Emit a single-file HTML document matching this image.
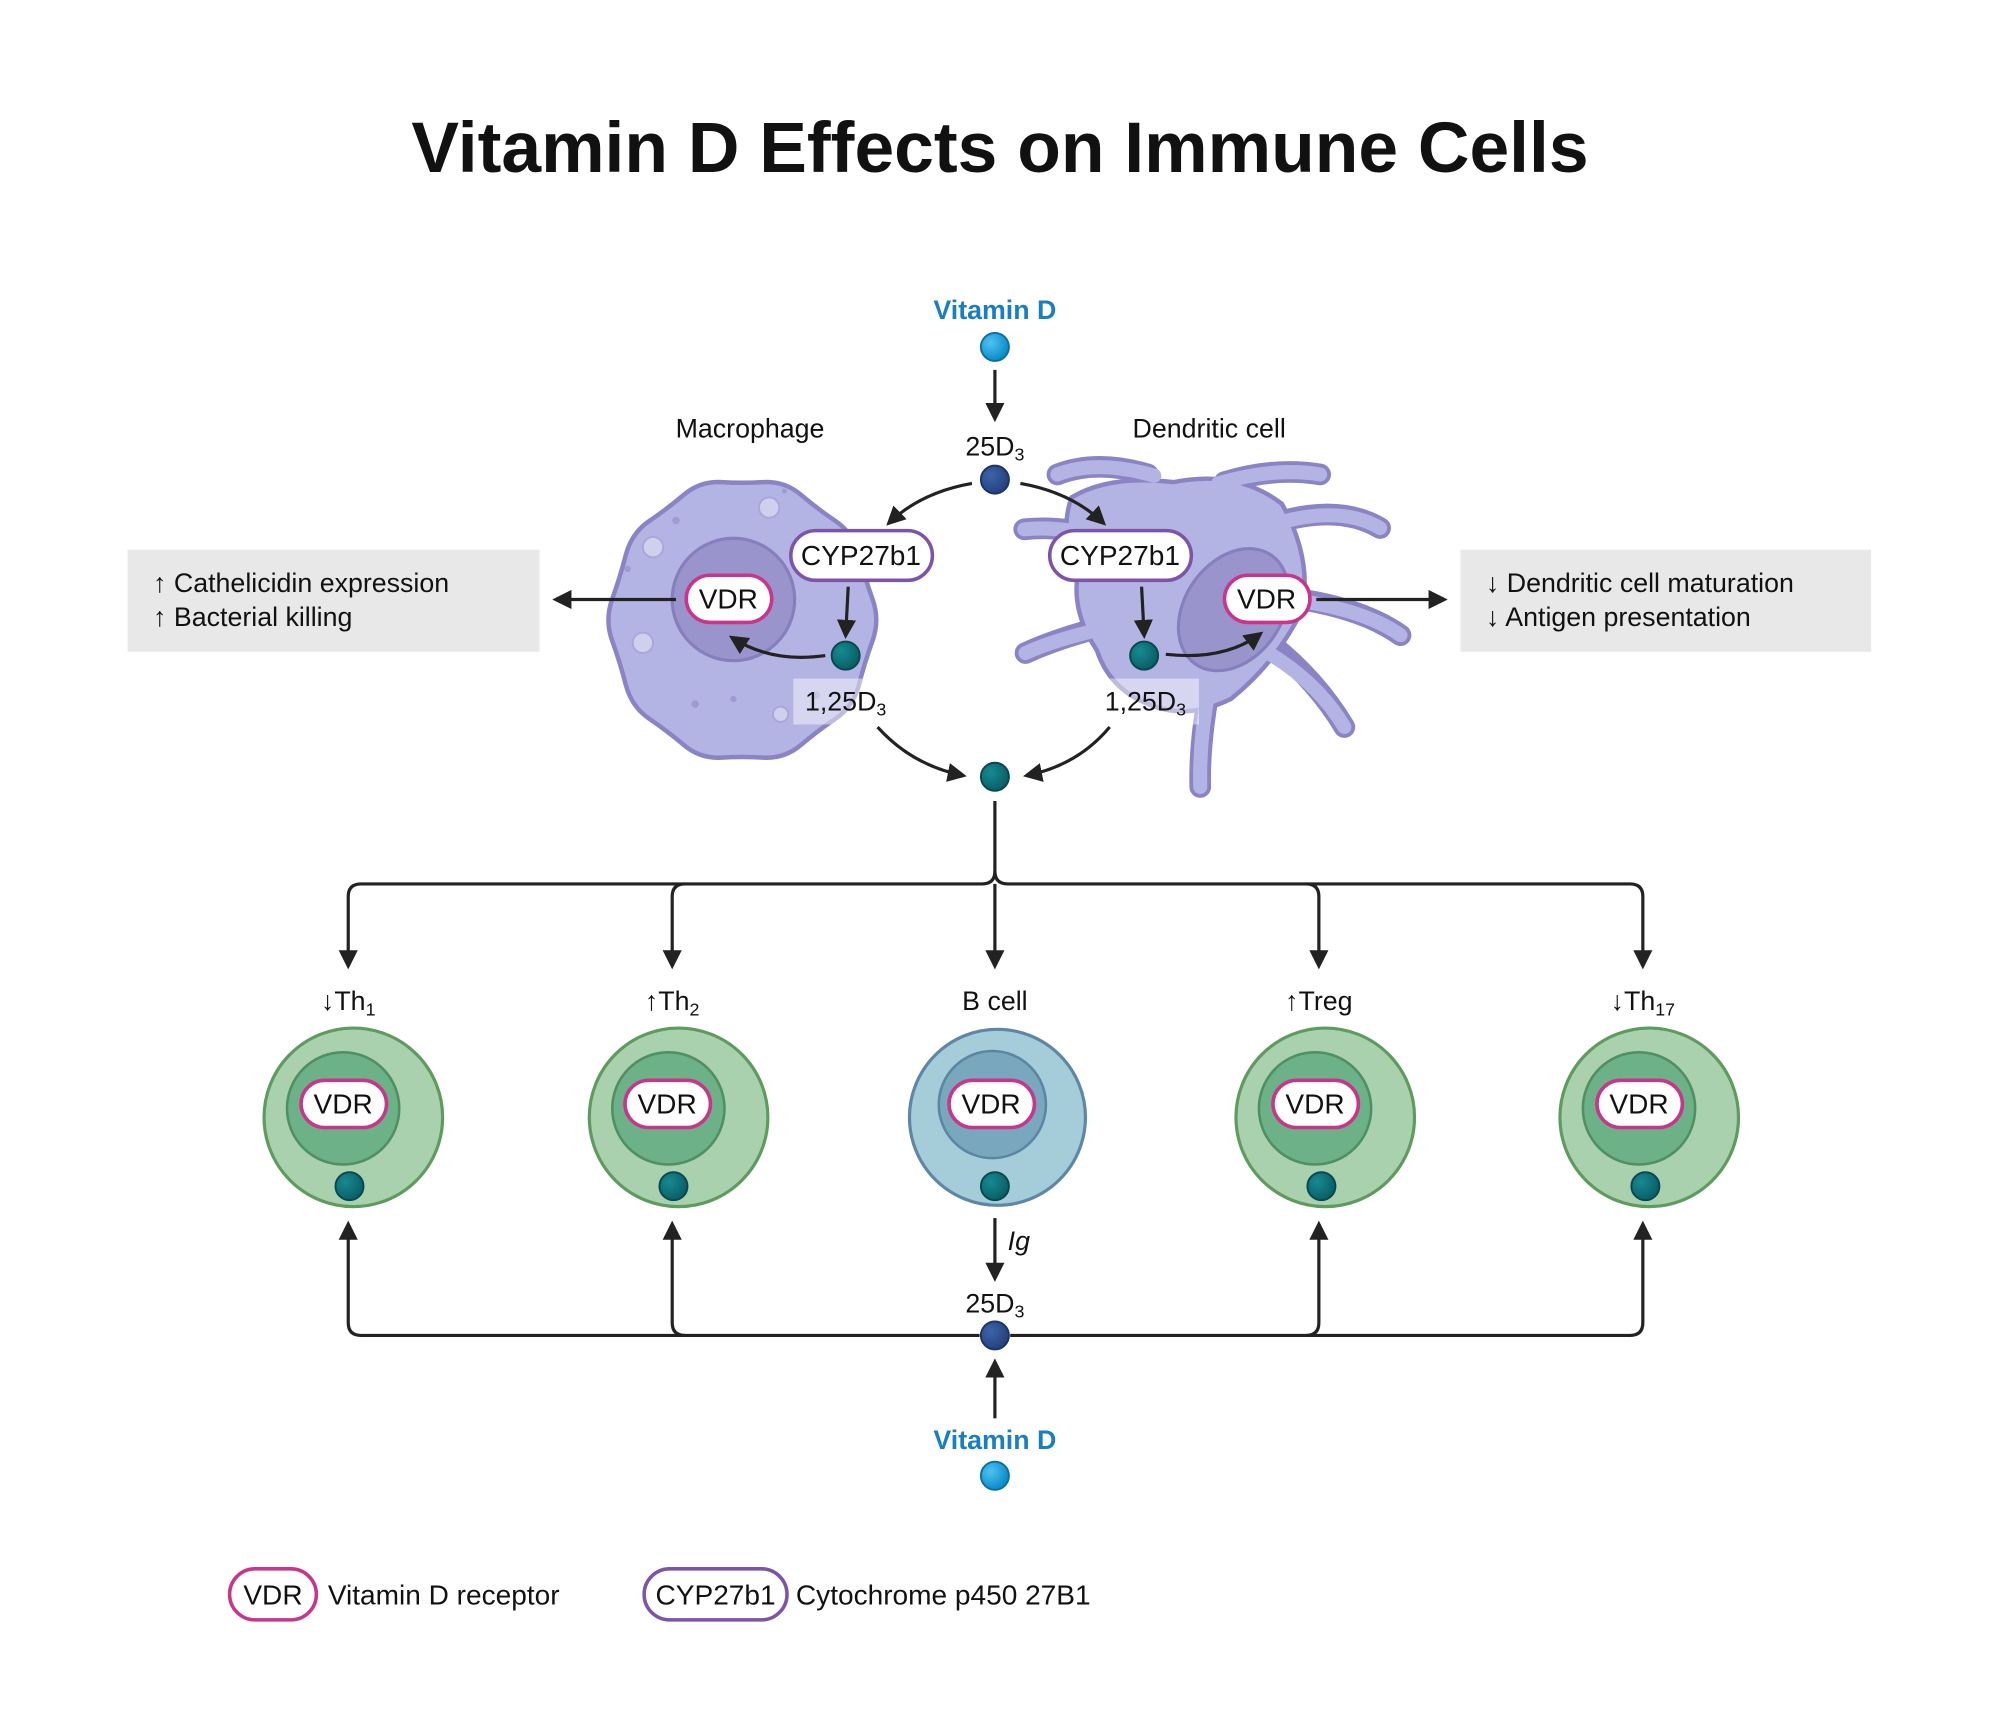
<!DOCTYPE html>
<html><head><meta charset="utf-8"><style>
html,body{margin:0;padding:0;background:#fff}
svg{display:block}
text{font-family:"Liberation Sans",Arial,sans-serif;fill:#111}
</style></head><body>
<svg width="2000" height="1727" viewBox="0 0 1568 1354" xmlns="http://www.w3.org/2000/svg">
<defs>
<marker id="ah" viewBox="0 0 10 10" refX="8" refY="5" markerWidth="6" markerHeight="6" orient="auto-start-reverse" markerUnits="strokeWidth">
<path d="M0,0 L10,5 L0,10 z" fill="#222"/></marker>
<radialGradient id="gb" cx="35%" cy="35%" r="65%"><stop offset="0" stop-color="#4fc3f0"/><stop offset="1" stop-color="#0a8cc8"/></radialGradient>
<radialGradient id="gd" cx="35%" cy="35%" r="65%"><stop offset="0" stop-color="#3d64a8"/><stop offset="1" stop-color="#25427f"/></radialGradient>
<radialGradient id="gt" cx="35%" cy="35%" r="65%"><stop offset="0" stop-color="#168a92"/><stop offset="1" stop-color="#0b5f67"/></radialGradient>
</defs>

<text x="784" y="135" text-anchor="middle" font-size="56" font-weight="bold">Vitamin D Effects on Immune Cells</text>

<!-- top vitamin D -->
<text x="780" y="250" text-anchor="middle" font-size="21" font-weight="bold" style="fill:#1a7fc1">Vitamin D</text>
<circle cx="780" cy="272" r="11" fill="url(#gb)" stroke="#0a6fa0" stroke-width="1.5"/>
<line x1="780" y1="290" x2="780" y2="328" stroke="#222" stroke-width="2.5" marker-end="url(#ah)"/>
<text x="780" y="357" text-anchor="middle" font-size="21">25D<tspan font-size="14" dy="4">3</tspan></text>
<circle cx="780" cy="376" r="11" fill="url(#gd)" stroke="#1c3366" stroke-width="1.5"/>

<!-- macrophage -->
<path d="M684,469.5 Q690,486 684,502.5 Q678,519 673.5,536.5 Q669,554 655,563.5 Q641,573 628,584 Q615,595 598.5,594 Q582,593 565.5,594 Q549,595 536,584 Q523,573 509,563.5 Q495,554 490.5,536.5 Q486,519 480,502.5 Q474,486 480,469.5 Q486,453 490.5,435.5 Q495,418 509,408.5 Q523,399 536,388 Q549,377 565.5,378 Q582,379 598.5,378 Q615,377 628,388 Q641,399 655,408.5 Q669,418 673.5,435.5 Q678,453 684,469.5 Z" fill="#b4b4e4" stroke="#8a84c4" stroke-width="3.5"/>
<g fill="#cfcfee" stroke="#a9a6d8" stroke-width="1.5">
<circle cx="603" cy="398" r="8"/><circle cx="512" cy="429" r="8"/><circle cx="504" cy="504" r="8"/><circle cx="612" cy="560" r="6"/></g>
<g fill="#9e9ad2"><circle cx="530" cy="408" r="3"/><circle cx="545" cy="552" r="3"/><circle cx="575" cy="548" r="2.5"/><circle cx="492" cy="446" r="2.5"/><circle cx="640" cy="545" r="3"/><circle cx="615" cy="385" r="2"/></g>
<circle cx="575" cy="470" r="48" fill="#9994cc" stroke="#8580bd" stroke-width="2.5"/>
<rect x="622" y="532" width="75" height="36" fill="#ffffff" fill-opacity="0.45"/>

<!-- dendritic cell -->
<g fill="none" stroke-linecap="round">
<g stroke="#8a84c4" stroke-width="17">
<path d="M900,372 Q860,360 829,372"/>
<path d="M960,378 Q1000,366 1035,372"/>
<path d="M1000,410 Q1050,395 1082,414"/>
<path d="M1020,470 Q1070,478 1098,498"/>
<path d="M990,500 Q1030,530 1054,570"/>
<path d="M950,530 Q940,580 941,617"/>
<path d="M870,490 Q830,500 804,512"/>
<path d="M860,420 Q830,412 803,415"/>
</g></g>
<path d="M840,390 Q870,372 920,378 Q970,368 1005,395 Q1030,440 1020,480 Q1000,520 965,548 Q930,565 900,552 Q870,540 860,510 Q840,480 845,450 Q830,420 840,390 Z" fill="#b4b4e4" stroke="#8a84c4" stroke-width="3.5"/>
<g fill="none" stroke-linecap="round"><g stroke="#b4b4e4" stroke-width="11">
<path d="M905,373 Q860,360 829,372"/>
<path d="M955,379 Q1000,366 1035,372"/>
<path d="M995,412 Q1050,395 1082,414"/>
<path d="M1012,470 Q1070,478 1098,498"/>
<path d="M982,505 Q1030,530 1054,570"/>
<path d="M948,540 Q940,580 941,617"/>
<path d="M878,490 Q830,500 804,512"/>
<path d="M868,422 Q830,412 803,415"/>
</g></g>
<ellipse cx="967" cy="478" rx="38" ry="52" transform="rotate(35 967 478)" fill="#9994cc" stroke="#8580bd" stroke-width="2.5"/>
<rect x="862" y="532" width="78" height="36" fill="#ffffff" fill-opacity="0.45"/>

<!-- curves from 25D3 -->
<path d="M762,379 Q722,386 697,410" fill="none" stroke="#222" stroke-width="2.5" marker-end="url(#ah)"/>
<path d="M800,379 Q840,386 865,410" fill="none" stroke="#222" stroke-width="2.5" marker-end="url(#ah)"/>

<!-- CYP pills -->
<rect x="620" y="416" width="111" height="39" rx="19.5" fill="#fff" stroke="#7c55a8" stroke-width="2.8"/>
<text x="675" y="443" text-anchor="middle" font-size="22">CYP27b1</text>
<rect x="823" y="416" width="111" height="39" rx="19.5" fill="#fff" stroke="#7c55a8" stroke-width="2.8"/>
<text x="878" y="443" text-anchor="middle" font-size="22">CYP27b1</text>

<line x1="665" y1="460" x2="663" y2="498" stroke="#222" stroke-width="2.5" marker-end="url(#ah)"/>
<line x1="895" y1="460" x2="897" y2="498" stroke="#222" stroke-width="2.5" marker-end="url(#ah)"/>
<circle cx="663" cy="514" r="11" fill="url(#gt)" stroke="#07484e" stroke-width="1.5"/>
<circle cx="897" cy="514" r="11" fill="url(#gt)" stroke="#07484e" stroke-width="1.5"/>
<path d="M647,514 Q605,520 574,500" fill="none" stroke="#222" stroke-width="2.5" marker-end="url(#ah)"/>
<path d="M914,513 Q960,518 988,497" fill="none" stroke="#222" stroke-width="2.5" marker-end="url(#ah)"/>

<text x="663" y="557" text-anchor="middle" font-size="21">1,25D<tspan font-size="14" dy="4">3</tspan></text>
<text x="898" y="557" text-anchor="middle" font-size="21">1,25D<tspan font-size="14" dy="4">3</tspan></text>

<!-- VDR pills in cells -->
<rect x="538" y="451" width="67" height="37" rx="18.5" fill="#fff" stroke="#c8368c" stroke-width="2.8"/>
<text x="571" y="477" text-anchor="middle" font-size="22">VDR</text>
<rect x="960" y="451" width="67" height="37" rx="18.5" fill="#fff" stroke="#c8368c" stroke-width="2.8"/>
<text x="993" y="477" text-anchor="middle" font-size="22">VDR</text>

<line x1="530" y1="470" x2="436" y2="470" stroke="#222" stroke-width="2.5" marker-end="url(#ah)"/>
<line x1="1032" y1="470" x2="1132" y2="470" stroke="#222" stroke-width="2.5" marker-end="url(#ah)"/>

<text x="588" y="343" text-anchor="middle" font-size="21">Macrophage</text>
<text x="948" y="343" text-anchor="middle" font-size="21">Dendritic cell</text>

<!-- side boxes -->
<rect x="100" y="431" width="323" height="80" fill="#e8e8e8"/>
<text x="120" y="464" font-size="21">↑ Cathelicidin expression</text>
<text x="120" y="491" font-size="21">↑ Bacterial killing</text>
<rect x="1145" y="431" width="322" height="80" fill="#e8e8e8"/>
<text x="1165" y="464" font-size="21">↓ Dendritic cell maturation</text>
<text x="1165" y="491" font-size="21">↓ Antigen presentation</text>

<!-- curves to center -->
<path d="M688,570 Q715,600 755,608" fill="none" stroke="#222" stroke-width="2.5" marker-end="url(#ah)"/>
<path d="M870,570 Q845,600 805,608" fill="none" stroke="#222" stroke-width="2.5" marker-end="url(#ah)"/>
<circle cx="780" cy="609" r="11" fill="url(#gt)" stroke="#07484e" stroke-width="1.5"/>

<!-- distribution lines -->
<g fill="none" stroke="#222" stroke-width="2.5">
<path d="M780,628 L780,683 Q780,693 770,693 L283,693 Q273,693 273,703 L273,757" marker-end="url(#ah)"/>
<path d="M780,683 Q780,693 790,693 L1278,693 Q1288,693 1288,703 L1288,757" marker-end="url(#ah)"/>
<path d="M537,693 Q527,693 527,703 L527,757" marker-end="url(#ah)"/>
<path d="M780,693 L780,757" marker-end="url(#ah)"/>
<path d="M1024,693 Q1034,693 1034,703 L1034,757" marker-end="url(#ah)"/>
</g>

<!-- labels -->
<text x="273" y="792" text-anchor="middle" font-size="21">↓Th<tspan font-size="14" dy="4">1</tspan></text>
<text x="527" y="792" text-anchor="middle" font-size="21">↑Th<tspan font-size="14" dy="4">2</tspan></text>
<text x="780" y="792" text-anchor="middle" font-size="21">B cell</text>
<text x="1034" y="792" text-anchor="middle" font-size="21">↑Treg</text>
<text x="1288" y="792" text-anchor="middle" font-size="21">↓Th<tspan font-size="14" dy="4">17</tspan></text>

<!-- T cells -->
<g>
<circle cx="277" cy="876" r="70" fill="#aad1ae" stroke="#5f9a5f" stroke-width="2.5"/>
<circle cx="269" cy="869" r="44" fill="#6cb187" stroke="#4f8f62" stroke-width="2"/>
<circle cx="532" cy="876" r="70" fill="#aad1ae" stroke="#5f9a5f" stroke-width="2.5"/>
<circle cx="524" cy="869" r="44" fill="#6cb187" stroke="#4f8f62" stroke-width="2"/>
<circle cx="782" cy="876" r="69" fill="#a4ccd9" stroke="#6086a6" stroke-width="2.5"/>
<circle cx="778" cy="866" r="42" fill="#79a7bd" stroke="#5b86a0" stroke-width="2"/>
<circle cx="1039" cy="876" r="70" fill="#aad1ae" stroke="#5f9a5f" stroke-width="2.5"/>
<circle cx="1031" cy="869" r="44" fill="#6cb187" stroke="#4f8f62" stroke-width="2"/>
<circle cx="1293" cy="876" r="70" fill="#aad1ae" stroke="#5f9a5f" stroke-width="2.5"/>
<circle cx="1285" cy="869" r="44" fill="#6cb187" stroke="#4f8f62" stroke-width="2"/>
</g>
<g>
<rect x="236" y="847" width="67" height="37" rx="18.5" fill="#fff" stroke="#c8368c" stroke-width="2.8"/>
<text x="269" y="873" text-anchor="middle" font-size="22">VDR</text>
<rect x="490" y="847" width="67" height="37" rx="18.5" fill="#fff" stroke="#c8368c" stroke-width="2.8"/>
<text x="523" y="873" text-anchor="middle" font-size="22">VDR</text>
<rect x="744" y="847" width="67" height="37" rx="18.5" fill="#fff" stroke="#c8368c" stroke-width="2.8"/>
<text x="777" y="873" text-anchor="middle" font-size="22">VDR</text>
<rect x="998" y="847" width="67" height="37" rx="18.5" fill="#fff" stroke="#c8368c" stroke-width="2.8"/>
<text x="1031" y="873" text-anchor="middle" font-size="22">VDR</text>
<rect x="1252" y="847" width="67" height="37" rx="18.5" fill="#fff" stroke="#c8368c" stroke-width="2.8"/>
<text x="1285" y="873" text-anchor="middle" font-size="22">VDR</text>
</g>
<g stroke="#07484e" stroke-width="1.5" fill="url(#gt)">
<circle cx="274" cy="930" r="11"/><circle cx="528" cy="930" r="11"/><circle cx="780" cy="930" r="11"/><circle cx="1036" cy="930" r="11"/><circle cx="1290" cy="930" r="11"/>
</g>

<!-- Ig and bottom -->
<line x1="780" y1="955" x2="780" y2="1002" stroke="#222" stroke-width="2.5" marker-end="url(#ah)"/>
<text x="790" y="980" font-size="21" font-style="italic">Ig</text>
<text x="780" y="1029" text-anchor="middle" font-size="21">25D<tspan font-size="14" dy="4">3</tspan></text>
<g fill="none" stroke="#222" stroke-width="2.5">
<path d="M768,1047 L283,1047 Q273,1047 273,1037 L273,960" marker-end="url(#ah)"/>
<path d="M537,1047 Q527,1047 527,1037 L527,960" marker-end="url(#ah)"/>
<path d="M792,1047 L1278,1047 Q1288,1047 1288,1037 L1288,960" marker-end="url(#ah)"/>
<path d="M1024,1047 Q1034,1047 1034,1037 L1034,960" marker-end="url(#ah)"/>
<line x1="780" y1="1112" x2="780" y2="1068" marker-end="url(#ah)"/>
</g>
<circle cx="780" cy="1047" r="11" fill="url(#gd)" stroke="#1c3366" stroke-width="1.5"/>
<text x="780" y="1136" text-anchor="middle" font-size="21" font-weight="bold" style="fill:#1a7fc1">Vitamin D</text>
<circle cx="780" cy="1157" r="11" fill="url(#gb)" stroke="#0a6fa0" stroke-width="1.5"/>

<!-- legend -->
<rect x="180" y="1230" width="68" height="40" rx="20" fill="#fff" stroke="#c8368c" stroke-width="2.8"/>
<text x="214" y="1258" text-anchor="middle" font-size="22">VDR</text>
<text x="257" y="1258" font-size="22">Vitamin D receptor</text>
<rect x="505" y="1230" width="112" height="40" rx="20" fill="#fff" stroke="#7c55a8" stroke-width="2.8"/>
<text x="561" y="1258" text-anchor="middle" font-size="22">CYP27b1</text>
<text x="624" y="1258" font-size="22">Cytochrome p450 27B1</text>
</svg>
</body></html>
